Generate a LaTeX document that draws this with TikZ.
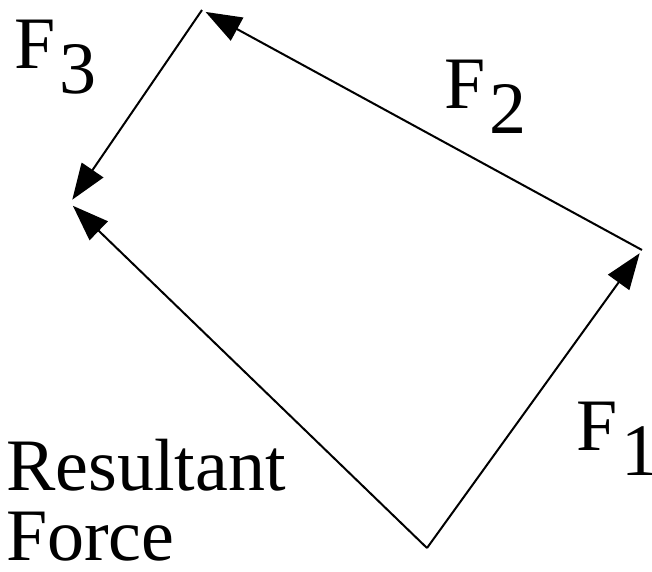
\documentclass[tikz,border=0pt]{standalone}
\usepackage{fontspec}
\setmainfont{Liberation Serif}
\usetikzlibrary{arrows.meta}
\tikzset{
  force/.style={line width=2pt, -{Triangle[length=36pt,width=26pt]}, shorten >=4pt},
  vectortext/.style={font=\fontsize{74}{70}\selectfont, inner sep=0pt, anchor=base west}
}
\newcommand{\forcelabel}[1]{F\hspace{4pt}\raisebox{-25pt}{#1}}

\begin{document}
\begin{tikzpicture}[x=1pt, y=-1pt]
    \useasboundingbox (0,0) rectangle (652,571);

    % Corners of the force polygon
    \coordinate (O) at (427,548);
    \coordinate (A) at (642,250);
    \coordinate (B) at (202,10);
    \coordinate (C) at (70,203);

    % Forces head to tail
    \draw[force] (O) -- (A);
    \draw[force] (A) -- (B);
    \draw[force] (B) -- (C);

    % Resultant closes the polygon
    \draw[force] (O) -- (C);

    % Labels
    \node[vectortext] (f1) at (576,450) {\forcelabel{1}};
    \node[vectortext] (f2) at (444,108) {\forcelabel{2}};
    \node[vectortext] (f3) at (14,68) {\forcelabel{3}};
    \node[vectortext, align=left] (res) at (6,560) {Resultant\\Force};
\end{tikzpicture}
\end{document}
